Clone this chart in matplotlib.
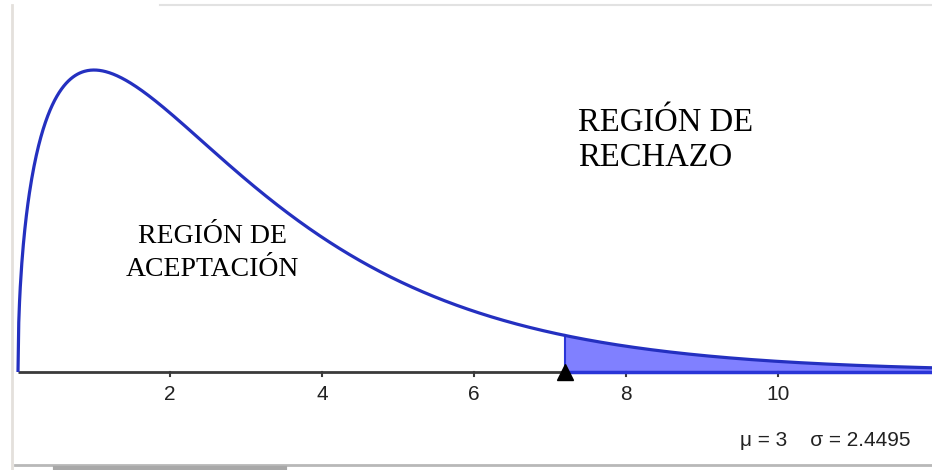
import math
import numpy as np
import matplotlib
matplotlib.use("Agg")
import matplotlib.pyplot as plt
from matplotlib.lines import Line2D

# distribución chi-cuadrado mostrada en la figura
df = 3
critical = 7.2
x_max = 12.03
tick_values = [2, 4, 6, 8, 10]
tick_labels = ["2", "4", "6", "8", "10"]
stats_label = "μ = 3    σ = 2.4495"
accept_label = "REGIÓN DE\nACEPTACIÓN"
reject_label = "REGIÓN DE\nRECHAZO"


def chi2_pdf(x, k):
    return x ** (k / 2 - 1) * np.exp(-x / 2) / (2 ** (k / 2) * math.gamma(k / 2))


W, H = 932, 470
fig = plt.figure(figsize=(W / 100, H / 100), dpi=100)
ax = fig.add_axes([0, 0, 1, 1])

# px -> datos: x=0 en px 18, 76 px por unidad; y=0 en px 372, 1248 px por unidad
ax.set_xlim((0 - 18) / 76, (W - 18) / 76)
ax.set_ylim((372 - H) / 1248, 372 / 1248)
ax.axis("off")

xs = np.linspace(0, x_max, 1200)
ys = chi2_pdf(xs, df)

# eje horizontal
ax.plot([0, critical], [0, 0], color="#3a3a3a", lw=2, zorder=2, solid_capstyle="butt")
for t in tick_values:
    ax.plot([t, t], [0, -4 / 1248], color="#3a3a3a", lw=1.5, zorder=2)
for t, lab in zip(tick_values, tick_labels):
    ax.text(t, -22 / 1248, lab, ha="center", va="center", fontsize=15,
            family="Liberation Sans", color="#222222")

# región de rechazo
mask = xs >= critical
xr = np.concatenate([[critical], xs[mask]])
yr = np.concatenate([[chi2_pdf(critical, df)], ys[mask]])
ax.fill_between(xr, 0, yr, color="#8080ff", lw=0, zorder=1)
ax.plot([critical, critical], [0, chi2_pdf(critical, df)], color="#2a35d8", lw=1.5, zorder=3)
ax.plot([critical, x_max], [0, 0], color="#2a35d8", lw=2.5, zorder=3)

# curva
ax.plot(xs, ys, color="#2430c0", lw=2.3, zorder=4, solid_capstyle="butt")

# valor crítico
ax.plot([critical], [0], marker="^", color="black", markersize=11, zorder=5,
        clip_on=False)

ax.text((212 - 18) / 76, (372 - 253) / 1248, accept_label, ha="center", va="center",
        fontsize=20, family="Liberation Serif", linespacing=1.4)
ax.text((578 - 18) / 76, (372 - 140) / 1248, reject_label, ha="left", va="center",
        fontsize=23.5, family="Liberation Serif", linespacing=1.2)

ax.text((910 - 18) / 76, (372 - 440) / 1248, stats_label, ha="right", va="center",
        fontsize=15, family="Liberation Sans", color="#222222")

# bordes de la ventana
fig.add_artist(Line2D([12 / W, 12 / W], [0, 1 - 5 / H], color="#e4e0dc", lw=2))
fig.add_artist(Line2D([160 / W, 1], [1 - 5 / H, 1 - 5 / H], color="#e2e2e2", lw=1.5))
fig.add_artist(Line2D([15 / W, 1], [1 - 465 / H, 1 - 465 / H], color="#b8b8b8", lw=2))
fig.add_artist(Line2D([55 / W, 285 / W], [1 - 468 / H, 1 - 468 / H], color="#a8a8a8", lw=3))

fig.savefig("out.png", dpi=100)
plt.close(fig)
